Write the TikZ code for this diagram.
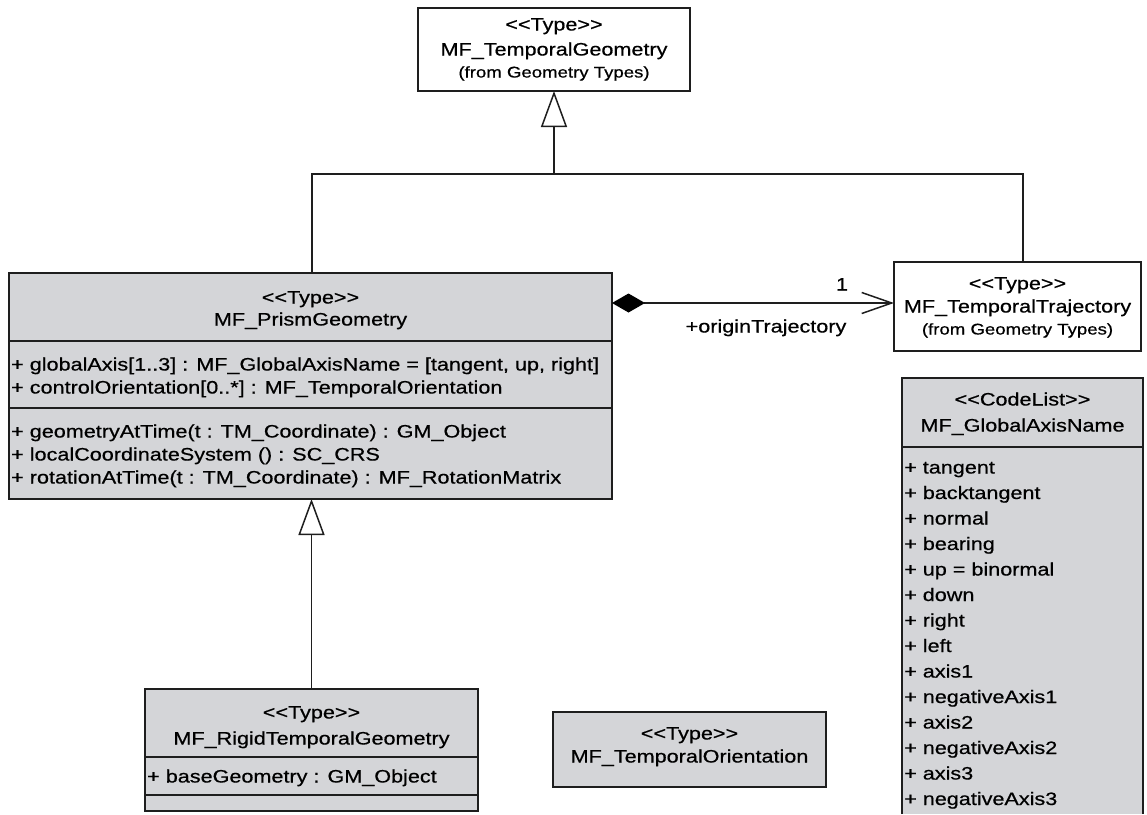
\documentclass[tikz,border=0pt]{standalone}
\usepackage{fontspec}
\setmainfont{Liberation Sans}[FakeStretch=1.2, FakeBold=0.6, Ligatures=TeXOff]
\usetikzlibrary{arrows.meta,calc}
\definecolor{classfill}{RGB}{212,213,216}
\definecolor{edge}{RGB}{30,30,30}

\begin{document}
\begin{tikzpicture}[x=1pt,y=-1pt,
  umlbox/.style={draw=edge, line width=1.5pt, inner sep=0pt, outer sep=0pt, anchor=north west},
  shaded/.style={umlbox, fill=classfill},
  plain/.style={umlbox, fill=white},
  lbl/.style={inner sep=0pt, font=\fontsize{18}{22}\selectfont, text height=14pt, text depth=3pt},
  note/.style={inner sep=0pt, font=\fontsize{15.5}{19}\selectfont, text height=12pt, text depth=3pt},
  item/.style={lbl, anchor=west},
  sep/.style={draw=edge, line width=1.5pt},
  conn/.style={draw=edge, line width=1.5pt},
  gen/.style={conn, -{Triangle[open, length=36pt, width=26pt]}},
  comp/.style={conn, {Diamond[length=33pt, width=19pt, color=black]}-{Straight Barb[length=30pt, width=21pt]}}
]
\useasboundingbox (0,0) rectangle (1147,814);

% ---- MF_TemporalGeometry
\node[plain, minimum width=272pt, minimum height=83pt] (top) at (418,8) {};
\node[lbl]  (topStereo) at (554,25) {<<Type>>};
\node[lbl]  (topName)   at (554,50) {MF\_TemporalGeometry};
\node[note] (topFrom)   at (554,73) {(from Geometry Types)};

% ---- MF_PrismGeometry
\node[shaded, minimum width=603pt, minimum height=226pt] (prism) at (9,273) {};
\node[lbl] (prismStereo) at (310.5,298) {<<Type>>};
\node[lbl] (prismName)   at (310.5,320) {MF\_PrismGeometry};
\draw[sep] (9,341) -- (612,341);
\node[item] (pa1) at (11,365) {+ globalAxis[1..3] : MF\_GlobalAxisName = [tangent, up, right]};
\node[item] (pa2) at (11,388) {+ controlOrientation[0..*] : MF\_TemporalOrientation};
\draw[sep] (9,408) -- (612,408);
\node[item] (pm1) at (11,432) {+ geometryAtTime(t : TM\_Coordinate) : GM\_Object};
\node[item] (pm2) at (11,455) {+ localCoordinateSystem () : SC\_CRS};
\node[item] (pm3) at (11,478) {+ rotationAtTime(t : TM\_Coordinate) : MF\_RotationMatrix};

% ---- MF_TemporalTrajectory
\node[plain, minimum width=247pt, minimum height=89pt] (traj) at (894,262) {};
\node[lbl]  (trajStereo) at (1017.5,284) {<<Type>>};
\node[lbl]  (trajName)   at (1017.5,307) {MF\_TemporalTrajectory};
\node[note] (trajFrom)   at (1017.5,330) {(from Geometry Types)};

% ---- MF_GlobalAxisName (runs off the lower edge)
\node[umlbox, draw=none, fill=classfill, minimum width=241pt, minimum height=436pt] (codes) at (902,378) {};
\draw[sep] (codes.south west) -- (codes.north west) -- (codes.north east) -- (codes.south east);
\node[lbl] (codesStereo) at (1022.5,400) {<<CodeList>>};
\node[lbl] (codesName)   at (1022.5,426) {MF\_GlobalAxisName};
\draw[sep] (902,447) -- (1143,447);
\foreach \t [count=\i from 0] in {tangent, backtangent, normal, bearing, up = binormal, down, right, left, axis1, negativeAxis1, axis2, negativeAxis2, axis3, negativeAxis3}
  \node[item] (code\i) at (904,{468+25.5*\i}) {+ \t};

% ---- MF_RigidTemporalGeometry
\node[shaded, minimum width=333pt, minimum height=122pt] (rigid) at (145,689) {};
\node[lbl] (rigidStereo) at (311.5,713) {<<Type>>};
\node[lbl] (rigidName)   at (311.5,739) {MF\_RigidTemporalGeometry};
\draw[sep] (145,757) -- (478,757);
\node[item] (ra1) at (147,777) {+ baseGeometry : GM\_Object};
\draw[sep] (145,795) -- (478,795);

% ---- MF_TemporalOrientation
\node[shaded, minimum width=273pt, minimum height=75pt] (orient) at (553,712) {};
\node[lbl] (orientStereo) at (689.5,734) {<<Type>>};
\node[lbl] (orientName)   at (689.5,757) {MF\_TemporalOrientation};

% ---- generalisation to MF_TemporalGeometry
\coordinate (bus) at (554,174);
\coordinate (prismUp) at ($(prism.north west)+(303,0)$);
\coordinate (trajUp)  at ($(traj.north west)+(129,0)$);
\draw[conn] (prismUp) -- (prismUp |- bus) -- (trajUp |- bus) -- (trajUp);
\draw[gen] (bus) -- (top.south);

% ---- generalisation to MF_PrismGeometry
\draw[gen] (rigid.north) -- (rigid.north |- prism.south);

% ---- composition: origin trajectory
\coordinate (compStart) at ($(prism.north east)+(0,30)$);
\draw[comp] (compStart) -- (traj.west |- compStart);
\node[lbl] (mult) at (842,285) {1};
\node[lbl] (role) at (766,327) {+originTrajectory};
\end{tikzpicture}
\end{document}
